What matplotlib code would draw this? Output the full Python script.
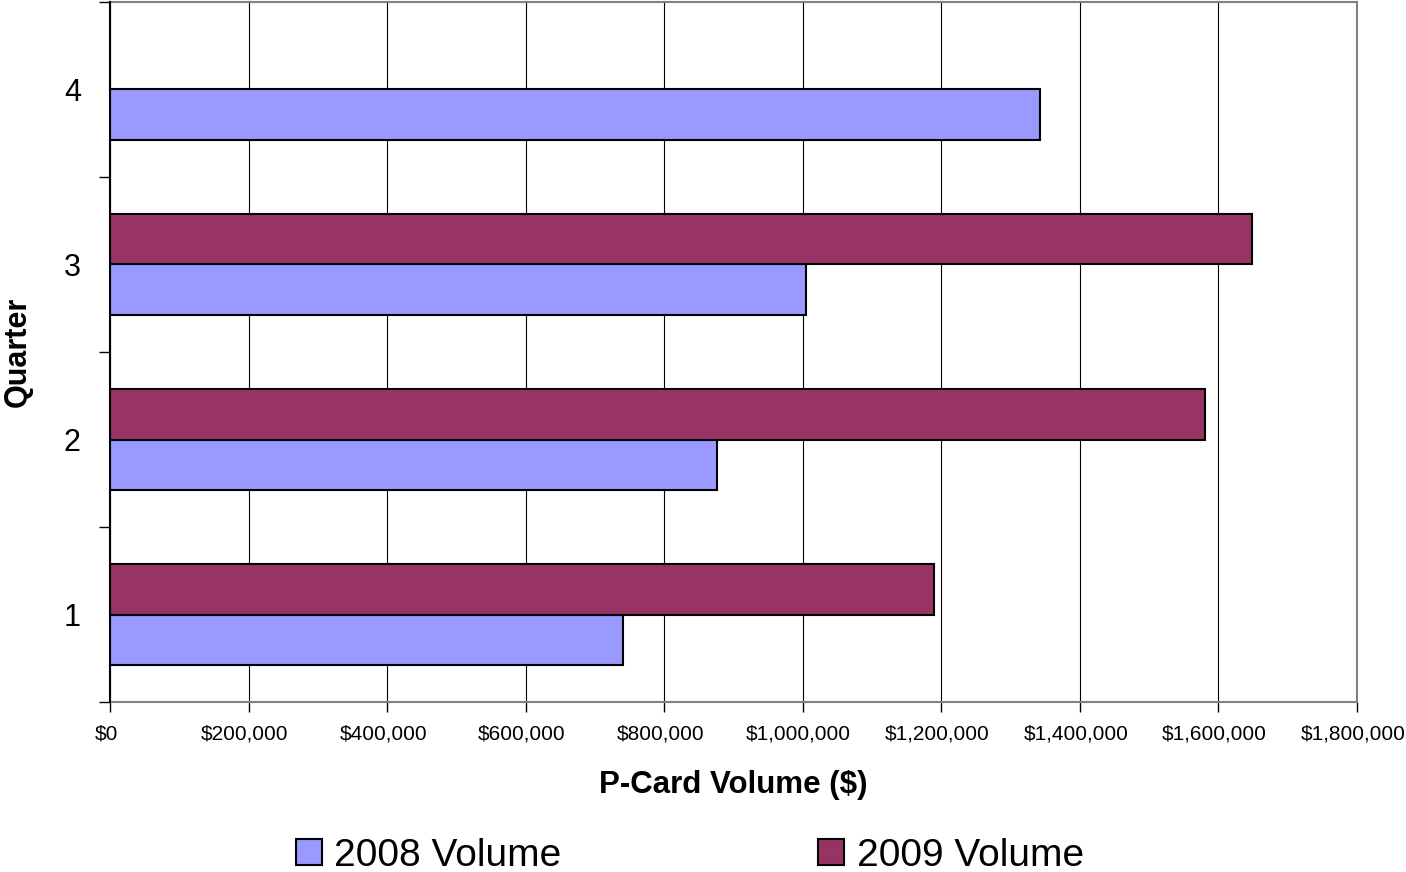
import matplotlib
matplotlib.use("Agg")
import matplotlib.pyplot as plt
import matplotlib.transforms as mtransforms
import numpy as np
from matplotlib.ticker import FuncFormatter, FixedLocator

plt.rcParams['font.family'] = ['Liberation Sans', 'DejaVu Sans']

quarters = ["1", "2", "3", "4"]
vol_2008 = [740000, 876000, 1005000, 1343000]
vol_2009 = [1190000, 1580000, 1648000, np.nan]
series_names = ["2008 Volume", "2009 Volume"]
x_ticks = [0, 200000, 400000, 600000, 800000, 1000000, 1200000, 1400000, 1600000, 1800000]

c2008 = "#9999FF"
c2009 = "#993366"

fig = plt.figure(figsize=(14.06, 8.72), dpi=100)
ax = fig.add_axes([110/1406, 1-702/872, (1357-110)/1406, (702-2)/872])

y = np.arange(1, len(quarters) + 1)
h = 0.286
ax.barh(y - h/2, vol_2008, height=h, color=c2008, edgecolor="black", linewidth=1.5,
        label=series_names[0], zorder=3)
ax.barh(y + h/2, vol_2009, height=h, color=c2009, edgecolor="black", linewidth=1.5,
        label=series_names[1], zorder=3)

ax.set_xlim(0, 1800000)
ax.set_ylim(0.5, 4.5)

ax.set_xticks(x_ticks)
ax.xaxis.set_major_formatter(FuncFormatter(lambda v, p: "${:,.0f}".format(v)))
ax.tick_params(axis='x', direction='out', length=7, width=1, pad=9, labelsize=15, colors='black')
offset = mtransforms.ScaledTranslation(-4/100, 0, fig.dpi_scale_trans)
for lbl in ax.get_xticklabels():
    lbl.set_transform(lbl.get_transform() + offset)

ax.set_yticks(y)
ax.set_yticklabels(quarters)
ax.yaxis.set_minor_locator(FixedLocator([0.5, 1.5, 2.5, 3.5, 4.5]))
ax.tick_params(axis='y', which='major', length=0, pad=21, labelsize=22)
ax.tick_params(axis='y', which='minor', direction='out', length=8, width=1, color='black')

ax.grid(axis='x', color='black', linewidth=0.8, zorder=0)
ax.set_axisbelow(True)

for s in ['top', 'right', 'bottom']:
    ax.spines[s].set_color('#808080')
    ax.spines[s].set_linewidth(1.5)
ax.spines['left'].set_color('black')
ax.spines['left'].set_linewidth(1.5)
ax.spines['left'].set_zorder(4)

ax.set_xlabel("P-Card Volume ($)", fontsize=22.5, fontweight='bold', labelpad=19)
ax.set_ylabel("Quarter", fontsize=22, fontweight='bold')
ax.yaxis.set_label_coords(-0.062, 0.5)

handles, labels = ax.get_legend_handles_labels()
leg = fig.legend(handles, labels, loc='center', bbox_to_anchor=(690/1406, 1-856/872),
                 ncol=2, frameon=False, fontsize=28, handlelength=0.65, handleheight=0.65,
                 handletextpad=0.33, columnspacing=6.6, borderpad=0)

fig.savefig("out.png", dpi=100)
